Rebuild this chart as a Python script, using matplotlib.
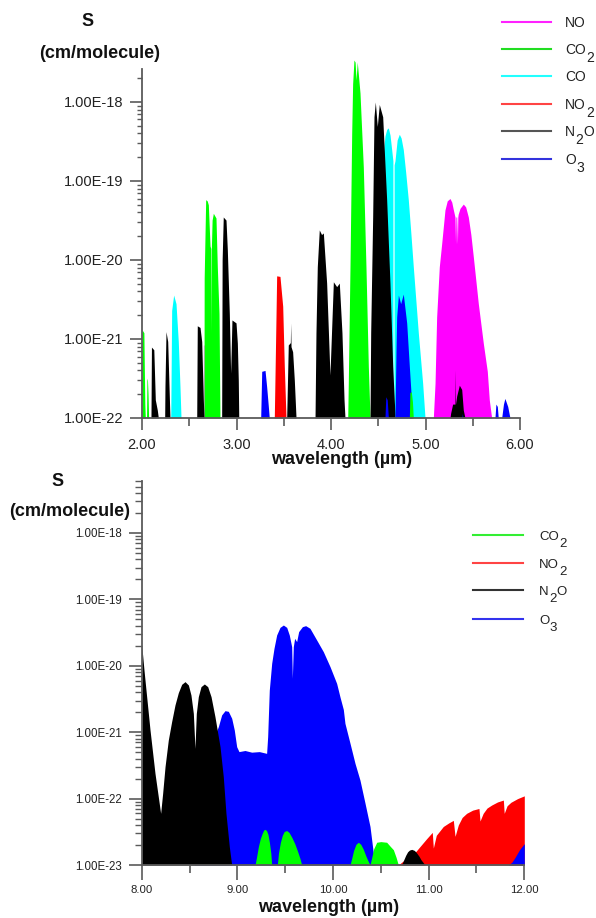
import matplotlib
matplotlib.use('Agg')
import matplotlib.pyplot as plt
from matplotlib.lines import Line2D
from matplotlib.ticker import FixedLocator, FuncFormatter, NullFormatter

plt.rcParams['font.family'] = ['Liberation Sans', 'DejaVu Sans']

# ---------------- DATA : upper panel (2 - 6 um) ----------------
TOP_BASE = 1e-22
top_no = [
    ([2.648, 2.650, 2.655, 2.657], [1e-22, 8.4e-22, 8.4e-22, 1e-22]),
    ([5.083, 5.101, 5.118, 5.146, 5.171, 5.206, 5.230, 5.259, 5.278, 5.295, 5.312, 5.318, 5.322, 5.330,
      5.338, 5.342, 5.346, 5.365, 5.400, 5.425, 5.453, 5.480, 5.506, 5.559, 5.612, 5.654, 5.675, 5.700],
     [1e-22, 2.75e-22, 1.9e-21, 8.2e-21, 1.6e-20, 4.3e-20, 5.6e-20, 6.0e-20, 5.4e-20, 4.3e-20, 3.5e-20, 1.6e-20,
      3.5e-20, 3.5e-20, 1.6e-20, 3.5e-20, 3.8e-20, 4.5e-20, 5.1e-20, 4.7e-20, 3.5e-20, 2.1e-20, 1.1e-20, 2.8e-21,
      8.8e-22, 3.9e-22, 1.7e-22, 1e-22]),
]
top_co = [
    ([2.304, 2.314, 2.335, 2.360, 2.384, 2.402, 2.413],
     [1e-22, 2.3e-21, 3.6e-21, 2.8e-21, 9.3e-22, 2.5e-22, 1e-22]),
    ([4.450, 4.500, 4.550, 4.571, 4.590, 4.607, 4.625, 4.642, 4.655, 4.656, 4.667, 4.668, 4.677, 4.700, 4.723,
      4.742, 4.765, 4.790, 4.818, 4.845, 4.871, 4.924, 4.970, 4.995],
     [1e-22, 1e-20, 2e-19, 3.7e-19, 4.5e-19, 4.7e-19, 3.8e-19, 2.5e-19, 1.8e-19, 1e-22, 1e-22, 1.6e-19, 1.8e-19,
      3.3e-19, 3.9e-19, 3.5e-19, 2.5e-19, 1.3e-19, 5.8e-20, 2.2e-20, 8.2e-21, 1.2e-21, 2.75e-22, 1e-22]),
]
top_no2 = [
    ([3.400, 3.418, 3.425, 3.460, 3.489, 3.506, 3.524],
     [1e-22, 1.9e-21, 6.3e-21, 6.2e-21, 2.6e-21, 4.5e-22, 1e-22]),
]
top_co2 = [
    ([2.000, 2.002, 2.020, 2.025, 2.030, 2.035],
     [1.3e-21, 1.3e-21, 1.2e-21, 4e-22, 1.5e-22, 1e-22]),
    ([2.048, 2.052, 2.058, 2.064, 2.070],
     [1e-22, 3.2e-22, 3e-22, 2e-22, 1e-22]),
    ([2.656, 2.658, 2.674, 2.690, 2.702, 2.720, 2.728, 2.731, 2.734, 2.742, 2.755, 2.783, 2.797, 2.815, 2.825],
     [1e-22, 5.9e-21, 5.8e-20, 5.6e-20, 5e-20, 1.5e-20, 1.4e-20, 1.2e-21, 1.4e-20, 3.2e-20, 3.9e-20, 3.4e-20,
      8.2e-21, 2.1e-21, 1e-22]),
    ([4.177, 4.183, 4.201, 4.219, 4.229, 4.243, 4.255, 4.265, 4.278, 4.307, 4.342, 4.370, 4.395, 4.413],
     [1e-22, 2.75e-22, 8.2e-21, 4e-19, 1.7e-18, 3.4e-18, 3.2e-18, 1.9e-18, 3.2e-18, 1.3e-18, 1.5e-19, 8.2e-21,
      4.5e-22, 1e-22]),
]
top_co2_small = [
    ([4.829, 4.835, 4.850, 4.862, 4.871], [1e-22, 2.1e-22, 2.15e-22, 1.6e-22, 1e-22]),
]
top_n2o = [
    ([2.095, 2.100, 2.125, 2.141, 2.162, 2.173],
     [1e-22, 7.9e-22, 7.3e-22, 1.7e-22, 1.26e-22, 1e-22]),
    ([2.240, 2.243, 2.254, 2.272, 2.286, 2.296],
     [1e-22, 2.5e-22, 1.24e-21, 9.3e-22, 2.5e-22, 1e-22]),
    ([2.579, 2.585, 2.614, 2.632, 2.649, 2.656],
     [1e-22, 1.47e-21, 1.4e-21, 9.3e-22, 1.7e-22, 1e-22]),
    ([2.843, 2.848, 2.860, 2.889, 2.903, 2.924, 2.938, 2.952, 2.995, 3.009, 3.019, 3.024],
     [1e-22, 1e-20, 3.5e-20, 3.2e-20, 1.35e-20, 2.1e-21, 3.7e-22, 1.74e-21, 1.6e-21, 8.9e-22, 3e-22, 1e-22]),
    ([3.531, 3.548, 3.570, 3.573, 3.577, 3.594, 3.612, 3.630],
     [1e-22, 8.4e-22, 9e-22, 1.6e-21, 8e-22, 6.9e-22, 3e-22, 1e-22]),
    ([3.831, 3.841, 3.855, 3.876, 3.900, 3.919, 3.954, 3.989, 4.025, 4.060, 4.088, 4.116, 4.138, 4.148],
     [1e-22, 1.2e-21, 8.2e-21, 2.4e-20, 2.1e-20, 2.2e-20, 5.1e-21, 3.5e-22, 5.3e-21, 4.6e-21, 5.1e-21, 1.2e-21,
      1.7e-22, 1e-22]),
    ([4.413, 4.420, 4.441, 4.455, 4.469, 4.490, 4.511, 4.547, 4.589, 4.624, 4.653, 4.677],
     [1e-22, 1.2e-21, 3.5e-20, 6.5e-19, 1e-18, 4.9e-19, 9.3e-19, 6.5e-19, 5.8e-20, 5.1e-21, 4.5e-22, 1.1e-22]),
    ([5.259, 5.266, 5.287, 5.300, 5.312, 5.315, 5.318, 5.330, 5.358, 5.383, 5.400, 5.418],
     [1e-22, 1.15e-22, 1.5e-22, 1.5e-22, 1.5e-22, 4.1e-22, 1.5e-22, 1.9e-22, 2.6e-22, 2.3e-22, 1.26e-22, 1e-22]),
]
top_o3 = [
    ([3.256, 3.267, 3.302, 3.319, 3.337, 3.347],
     [1e-22, 3.9e-22, 4e-22, 2.5e-22, 1.4e-22, 1e-22]),
    ([4.571, 4.580, 4.595, 4.607], [1e-22, 1.86e-22, 1.7e-22, 1e-22]),
    ([4.677, 4.688, 4.695, 4.713, 4.737, 4.765, 4.801, 4.829, 4.854, 4.860],
     [1e-22, 7.3e-22, 1.9e-21, 3.6e-21, 2.8e-21, 3.7e-21, 1.6e-21, 4.5e-22, 1.5e-22, 1e-22]),
    ([5.385, 5.390, 5.395], [1e-22, 1.15e-22, 1e-22]),
    ([5.735, 5.745, 5.760, 5.770], [1e-22, 1.5e-22, 1.4e-22, 1e-22]),
    ([5.806, 5.825, 5.840, 5.870, 5.894], [1e-22, 1.5e-22, 1.77e-22, 1.4e-22, 1e-22]),
]

# ---------------- DATA : lower panel (8 - 12 um) ----------------
BOT_BASE = 1e-23
bot_o3 = [
    ([8.550, 8.650, 8.750, 8.801, 8.836, 8.871, 8.906, 8.941, 8.968, 8.993, 9.017, 9.080, 9.150, 9.230, 9.306,
      9.317, 9.334, 9.359, 9.383, 9.411, 9.446, 9.481, 9.516, 9.543, 9.568, 9.575, 9.585, 9.599, 9.620, 9.641,
      9.680, 9.714, 9.759, 9.829, 9.899, 9.969, 10.038, 10.073, 10.108, 10.125, 10.178, 10.230, 10.282,
      10.335, 10.387, 10.422, 10.440],
     [1e-23, 1e-22, 8e-22, 1.21e-21, 1.82e-21, 2.11e-21, 2.06e-21, 1.62e-21, 1.08e-21, 6.05e-22, 5.1e-22,
      5.3e-22, 5.0e-22, 5.1e-22, 4.8e-22, 8.6e-22, 4.3e-21, 1.09e-20, 1.83e-20, 2.91e-20, 3.79e-20, 4.11e-20,
      3.79e-20, 2.91e-20, 1.94e-20, 6.47e-21, 1.94e-20, 2.59e-20, 2.31e-20, 3.27e-20, 3.88e-20, 4.02e-20,
      3.67e-20, 2.45e-20, 1.63e-20, 9.7e-21, 5.44e-21, 3.4e-21, 2.2e-21, 1.36e-21, 6.8e-22, 3.4e-22, 1.9e-22,
      8.5e-23, 3.8e-23, 1.5e-23, 1e-23]),
    ([11.833, 11.870, 11.903, 11.950, 12.000],
     [1e-23, 1.1e-23, 1.3e-23, 1.7e-23, 2.1e-23]),
]
bot_n2o = [
    ([8.000, 8.024, 8.087, 8.139, 8.198, 8.219, 8.244, 8.278, 8.313, 8.348, 8.383, 8.418, 8.453, 8.488, 8.515,
      8.540, 8.557, 8.571, 8.592, 8.620, 8.655, 8.690, 8.725, 8.766, 8.819, 8.853, 8.881, 8.916, 8.941],
     [2.06e-20, 8.6e-21, 1.08e-21, 2.4e-22, 6e-23, 1.2e-22, 3.03e-22, 7.6e-22, 1.44e-21, 2.57e-21, 3.94e-21,
      5.26e-21, 5.77e-21, 5.14e-21, 3.63e-21, 1.92e-21, 5.7e-22, 1.92e-21, 3.43e-21, 4.85e-21, 5.32e-21,
      4.85e-21, 3.43e-21, 1.71e-21, 6.05e-22, 2.14e-22, 6e-23, 1.89e-23, 1e-23]),
    ([10.718, 10.740, 10.760, 10.780, 10.800, 10.823, 10.850, 10.870, 10.900, 10.920, 10.940, 10.962],
     [1e-23, 1.2e-23, 1.4e-23, 1.58e-23, 1.68e-23, 1.72e-23, 1.66e-23, 1.55e-23, 1.35e-23, 1.2e-23, 1.1e-23,
      1e-23]),
]
bot_no2 = [
    ([10.683, 10.750, 10.850, 10.910, 10.980, 11.038, 11.049, 11.080, 11.153, 11.210, 11.258, 11.276, 11.310,
      11.350, 11.397, 11.460, 11.526, 11.537, 11.570, 11.610, 11.659, 11.720, 11.781, 11.790, 11.820, 11.860,
      11.930, 12.000],
     [1e-23, 1.2e-23, 1.5e-23, 1.9e-23, 2.5e-23, 3.1e-23, 1.8e-23, 2.8e-23, 3.8e-23, 4.3e-23, 4.7e-23, 2.7e-23,
      4e-23, 5.2e-23, 6e-23, 6.7e-23, 7.1e-23, 4.6e-23, 6e-23, 7.2e-23, 8e-23, 8.9e-23, 9.5e-23, 6e-23, 7.8e-23,
      8.8e-23, 1e-22, 1.1e-22]),
]
bot_co2 = [
    ([9.185, 9.200, 9.220, 9.240, 9.260, 9.275, 9.289, 9.305, 9.320, 9.335, 9.350, 9.359],
     [1e-23, 1.3e-23, 1.9e-23, 2.5e-23, 3.0e-23, 3.35e-23, 3.45e-23, 3.3e-23, 2.9e-23, 2.2e-23, 1.5e-23, 1e-23]),
    ([9.418, 9.430, 9.450, 9.470, 9.490, 9.516, 9.540, 9.570, 9.600, 9.630, 9.655, 9.673],
     [1e-23, 1.5e-23, 2.2e-23, 2.8e-23, 3.2e-23, 3.3e-23, 3.1e-23, 2.6e-23, 2.1e-23, 1.6e-23, 1.25e-23, 1e-23]),
    ([10.178, 10.195, 10.215, 10.240, 10.265, 10.290, 10.315, 10.345, 10.370, 10.387],
     [1e-23, 1.25e-23, 1.65e-23, 2.05e-23, 2.2e-23, 2.05e-23, 1.75e-23, 1.35e-23, 1.12e-23, 1e-23]),
    ([10.387, 10.405, 10.425, 10.457, 10.500, 10.561, 10.600, 10.631, 10.660, 10.683],
     [1e-23, 1.3e-23, 1.75e-23, 2.2e-23, 2.25e-23, 2.2e-23, 1.9e-23, 1.7e-23, 1.3e-23, 1e-23]),
]

top_xticks = [2, 3, 4, 5, 6]
top_xminor = [2.5, 3.5, 4.5, 5.5]
bot_xticks = [8, 9, 10, 11, 12]
bot_xminor = [8.5, 9.5, 10.5, 11.5]

# legend labels as (text, is_subscript) pieces
top_legend = [([('NO', 0)], '#ff22ff'), ([('CO', 0), ('2', 1)], '#22dd22'), ([('CO', 0)], '#22ffff'),
              ([('NO', 0), ('2', 1)], '#ff4444'), ([('N', 0), ('2', 1), ('O', 0)], '#555555'),
              ([('O', 0), ('3', 1)], '#3333dd')]
bot_legend = [([('CO', 0), ('2', 1)], '#33ee33'), ([('NO', 0), ('2', 1)], '#ff4444'),
              ([('N', 0), ('2', 1), ('O', 0)], '#333333'), ([('O', 0), ('3', 1)], '#3333ee')]

C = {'NO': '#ff00ff', 'CO2': '#00ff00', 'CO': '#00ffff', 'NO2': '#ff0000', 'N2O': '#000000', 'O3': '#0000ff'}

W, H = 596, 918
fig = plt.figure(figsize=(W / 100, H / 100), dpi=100)
renderer = fig.canvas.get_renderer()

def fx(px):
    return px / W

def fy(py):
    return 1 - py / H

SPINE = '#5a5a5a'

def fill_bands(ax, bands, color, base):
    for wl, s in bands:
        ax.fill_between(wl, base, s, color=color, lw=0, antialiased=True)

def style(ax, xlim, ylim, xticks, xminor, ymaj, ymin, xfs, yfs, tl):
    ax.set_yscale('log')
    ax.set_xlim(*xlim)
    ax.set_ylim(*ylim)
    for s in ['top', 'right']:
        ax.spines[s].set_visible(False)
    for s in ['left', 'bottom']:
        ax.spines[s].set_color(SPINE)
        ax.spines[s].set_linewidth(1.3)
    ax.set_facecolor('none')
    ax.xaxis.set_major_locator(FixedLocator(xticks))
    ax.xaxis.set_minor_locator(FixedLocator(xminor))
    ax.xaxis.set_major_formatter(FuncFormatter(lambda v, p: f"{v:.2f}"))
    ax.yaxis.set_major_locator(FixedLocator(ymaj))
    ax.yaxis.set_minor_locator(FixedLocator(ymin))
    ax.yaxis.set_major_formatter(FuncFormatter(lambda v, p: f"{v:.2E}"))
    ax.yaxis.set_minor_formatter(NullFormatter())
    ax.tick_params(axis='x', which='major', direction='out', length=tl[0], width=1.2, color=SPINE,
                   labelsize=xfs, pad=tl[4], labelcolor='#222222')
    ax.tick_params(axis='x', which='minor', direction='out', length=tl[1], width=1.2, color=SPINE)
    ax.tick_params(axis='y', which='major', direction='out', length=tl[2], width=1.2, color=SPINE,
                   labelsize=yfs, pad=5, labelcolor='#222222')
    ax.tick_params(axis='y', which='minor', direction='out', length=tl[3], width=1.0, color=SPINE)

# ---------------- upper panel ----------------
top_ylim = (TOP_BASE, 4e-18)
ax1 = fig.add_axes([fx(142), fy(418), fx(520) - fx(142), (418 - 54.4) / H])
fill_bands(ax1, top_no, C['NO'], TOP_BASE)
fill_bands(ax1, top_co, C['CO'], TOP_BASE)
fill_bands(ax1, top_no2, C['NO2'], TOP_BASE)
fill_bands(ax1, top_co2, C['CO2'], TOP_BASE)
fill_bands(ax1, top_n2o, C['N2O'], TOP_BASE)
fill_bands(ax1, top_o3, C['O3'], TOP_BASE)
fill_bands(ax1, top_co2_small, C['CO2'], TOP_BASE)
ymaj1 = [1e-22, 1e-21, 1e-20, 1e-19, 1e-18]
ymin1 = [m * d for d in [1e-22, 1e-21, 1e-20, 1e-19] for m in range(2, 10)] + [2e-18]
style(ax1, (2, 6), top_ylim, top_xticks, top_xminor, ymaj1, ymin1, 10.5, 10.5, (8.6, 5.5, 8.6, 3.6, 6))
ax1.spines['left'].set_bounds(TOP_BASE, 2.6e-18)

# ---------------- lower panel ----------------
bot_ylim = (BOT_BASE, 6e-18)
ax2 = fig.add_axes([fx(141.7), fy(865), fx(524.3) - fx(141.7), (865 - 481.3) / H])
fill_bands(ax2, bot_no2, C['NO2'], BOT_BASE)
fill_bands(ax2, bot_o3, C['O3'], BOT_BASE)
fill_bands(ax2, bot_n2o, C['N2O'], BOT_BASE)
fill_bands(ax2, bot_co2, C['CO2'], BOT_BASE)
ymaj2 = [1e-23, 1e-22, 1e-21, 1e-20, 1e-19, 1e-18]
ymin2 = [m * d for d in [1e-23, 1e-22, 1e-21, 1e-20, 1e-19] for m in range(2, 10)] + [2e-18, 3e-18, 4e-18, 5e-18, 6e-18]
style(ax2, (8, 12), bot_ylim, bot_xticks, bot_xminor, ymaj2, ymin2, 8.2, 8.3, (10.5, 5.8, 9.4, 5.0, 4))

# ---------------- labels ----------------
lab = dict(fontsize=13, fontweight='bold', ha='center', va='center', color='#111111')
fig.text(fx(88), fy(21), 'S', **lab)
fig.text(fx(100), fy(53), '(cm/molecule)', **lab)
fig.text(fx(342), fy(459), 'wavelength (µm)', **lab)
fig.text(fx(58), fy(481), 'S', **lab)
fig.text(fx(70), fy(511), '(cm/molecule)', **lab)
fig.text(fx(329), fy(908), 'wavelength (µm)', **lab)

# ---------------- legends ----------------
def legend(entries, x0, x1, xt, ys, fs, dy, drop):
    for (pieces, col), y in zip(entries, ys):
        fig.add_artist(Line2D([fx(x0), fx(x1)], [fy(y), fy(y)], color=col, lw=1.5,
                              transform=fig.transFigure))
        x = xt
        for txt, sub in pieces:
            t = fig.text(fx(x), fy(y + dy + (drop if sub else 0)), txt, fontsize=fs, ha='left',
                         va='baseline', color='#222222')
            w = t.get_window_extent(renderer=renderer).width
            x += w + 0.3

legend(top_legend, 502, 551, 565, [22, 49, 76, 104, 131, 159], 10, 5, 8)
legend(bot_legend, 473, 523, 539, [535, 563, 590, 619], 9.5, 4.6, 7)

fig.savefig('out.png', dpi=100)
